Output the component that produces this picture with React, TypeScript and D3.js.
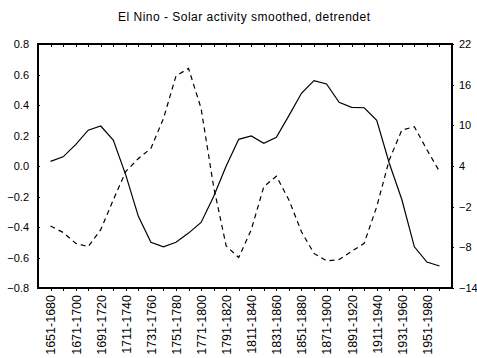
import * as d3 from "d3";
import { useEffect, useRef } from "react";

const width = 477;
const height = 358;
const margin = { top: 44, right: 25, bottom: 70, left: 38 };
const innerWidth = width - margin.left - margin.right;
const innerHeight = height - margin.top - margin.bottom;

const title = "El Nino - Solar activity smoothed, detrendet";

// 30-year windows, one every 10 years
const periods = [
  "1651-1680", "1661-1690", "1671-1700", "1681-1710", "1691-1720", "1701-1730",
  "1711-1740", "1721-1750", "1731-1760", "1741-1770", "1751-1780", "1761-1790",
  "1771-1800", "1781-1810", "1791-1820", "1801-1830", "1811-1840", "1821-1850",
  "1831-1860", "1841-1870", "1851-1880", "1861-1890", "1871-1900", "1881-1910",
  "1891-1920", "1901-1930", "1911-1940", "1921-1950", "1931-1960", "1941-1970",
  "1951-1980", "1961-1990",
];

// solid line, left axis
const elNino = [
  0.03, 0.06, 0.14, 0.235, 0.262, 0.17, -0.06, -0.33, -0.5, -0.53, -0.5, -0.44,
  -0.37, -0.2, 0.0, 0.175, 0.197, 0.149, 0.188, 0.33, 0.477, 0.56, 0.538, 0.418,
  0.385, 0.382, 0.3, 0.018, -0.22, -0.53, -0.63, -0.656,
];

// dashed line, right axis
const solar = [
  -4.85, -5.8, -7.4, -7.9, -5.4, -1.0, 3.2, 5.1, 6.6, 11.0, 17.3, 18.4, 12.5,
  0.95, -7.8, -9.5, -5.4, 0.95, 2.5, -1.0, -5.7, -8.9, -10.0, -9.8, -8.6, -7.4,
  -2.0, 4.9, 9.3, 9.8, 6.4, 3.2,
];

const leftTicks = [0.8, 0.6, 0.4, 0.2, 0.0, -0.2, -0.4, -0.6, -0.8];
const rightTicks = [22, 16, 10, 4, -2, -8, -14];

const font = "Arial, 'Liberation Sans', sans-serif";

const App = () => {
  const svgRef = useRef<SVGSVGElement | null>(null);

  useEffect(() => {
    const svg = d3.select(svgRef.current);
    svg.selectAll("*").remove();

    const x = d3.scalePoint<string>().domain(periods).range([0, innerWidth]).padding(1);
    const yL = d3.scaleLinear().domain([-0.8, 0.8]).range([innerHeight, 0]);
    const yR = d3.scaleLinear().domain([-14, 22]).range([innerHeight, 0]);

    svg
      .append("text")
      .attr("x", 244)
      .attr("y", 21)
      .attr("text-anchor", "middle")
      .attr("font-family", font)
      .attr("font-size", 12)
      .attr("textLength", 252)
      .attr("lengthAdjust", "spacing")
      .text(title);

    const g = svg
      .append("g")
      .attr("transform", `translate(${margin.left},${margin.top})`);

    // frame
    g.append("rect")
      .attr("width", innerWidth)
      .attr("height", innerHeight)
      .attr("fill", "none")
      .attr("stroke", "#000")
      .attr("stroke-width", 1.3)
      .attr("shape-rendering", "crispEdges");

    // left axis
    const left = g
      .append("g")
      .call(
        d3
          .axisLeft(yL)
          .tickValues(leftTicks)
          .tickSize(-2)
          .tickPadding(9)
          .tickFormat(d3.format(".1f"))
      );
    left.select(".domain").remove();

    // right axis
    const right = g
      .append("g")
      .attr("transform", `translate(${innerWidth},0)`)
      .call(d3.axisRight(yR).tickValues(rightTicks).tickSize(2).tickPadding(5));
    right.select(".domain").remove();

    // top ticks
    const top = g.append("g").call(d3.axisTop(x).tickSize(-3).tickFormat(() => ""));
    top.select(".domain").remove();

    // bottom axis, label every other period
    const bottom = g
      .append("g")
      .attr("transform", `translate(0,${innerHeight})`)
      .call(
        d3
          .axisBottom(x)
          .tickSize(3)
          .tickPadding(6)
          .tickFormat((d, i) => (i % 2 === 0 ? d : ""))
      );
    bottom.select(".domain").remove();

    g.selectAll(".tick text")
      .attr("font-family", font)
      .attr("font-size", 11)
      .attr("fill", "#000");
    g.selectAll(".tick line").attr("stroke", "#000").attr("shape-rendering", "crispEdges");

    bottom
      .selectAll("text")
      .attr("transform", "rotate(-90)")
      .attr("text-anchor", "end")
      .attr("font-size", 12.5)
      .attr("dx", "-7")
      .attr("dy", "0.35em")
      .attr("y", 0);

    const lineL = d3
      .line<number>()
      .x((_, i) => x(periods[i]) as number)
      .y((d) => yL(d));
    const lineR = d3
      .line<number>()
      .x((_, i) => x(periods[i]) as number)
      .y((d) => yR(d));

    g.append("path")
      .datum(elNino)
      .attr("fill", "none")
      .attr("stroke", "#000")
      .attr("stroke-width", 1.2)
      .attr("d", lineL);

    g.append("path")
      .datum(solar)
      .attr("fill", "none")
      .attr("stroke", "#000")
      .attr("stroke-width", 1.2)
      .attr("stroke-dasharray", "5,4")
      .attr("d", lineR);
  }, []);

  return (
    <svg
      ref={svgRef}
      width={width}
      height={height}
      style={{ position: "absolute", left: 0, top: 0, background: "#fff" }}
    />
  );
};

export default App;
